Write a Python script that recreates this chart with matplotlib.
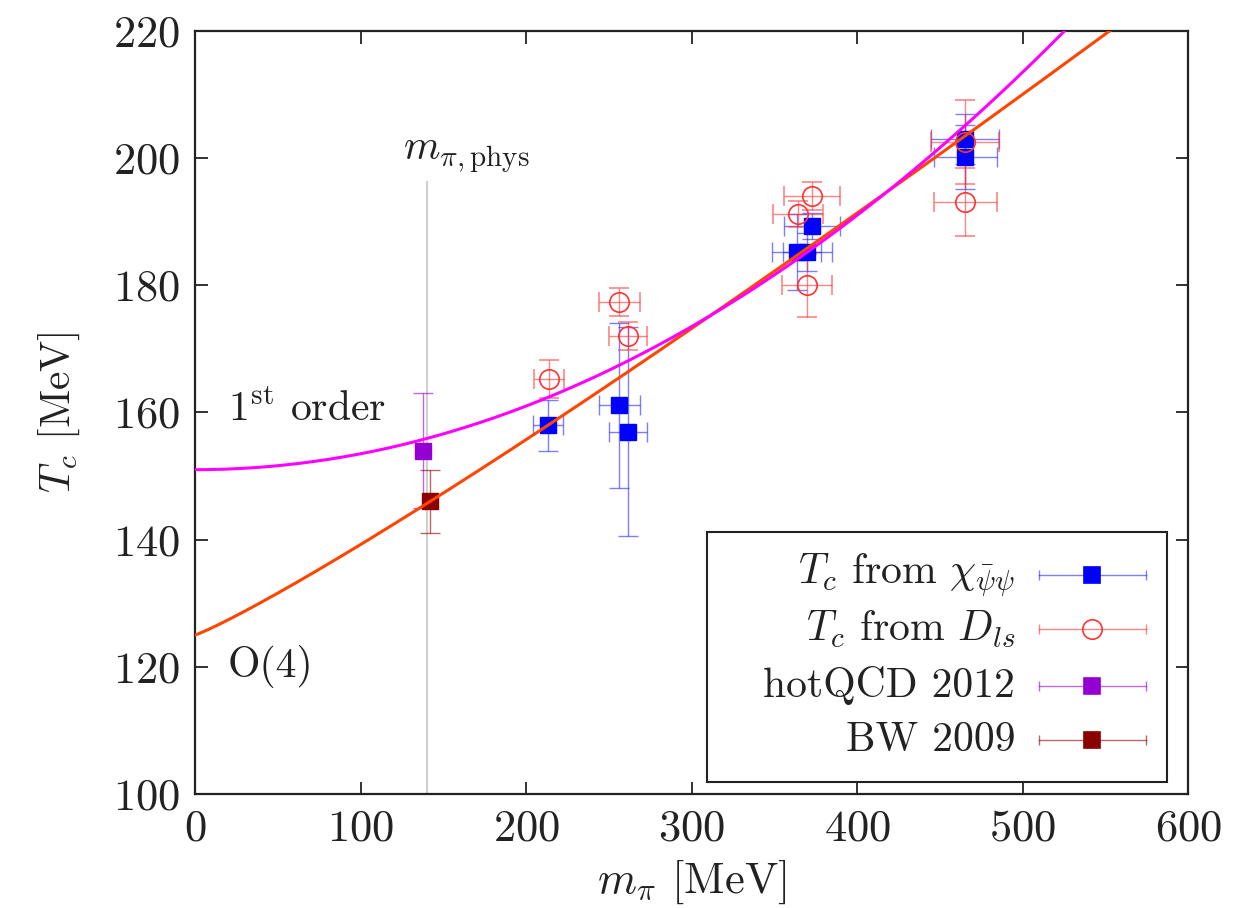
import numpy as np
import matplotlib
matplotlib.use("Agg")
import matplotlib.pyplot as plt
from matplotlib.patches import Rectangle

plt.rcParams["font.family"] = "serif"
plt.rcParams["font.serif"] = ["cmr10"]
plt.rcParams["mathtext.fontset"] = "cm"
plt.rcParams["axes.formatter.use_mathtext"] = True

# T_c from chiral susceptibility
m_chi = [213.3, 256.2, 261.6, 363.7, 369.8, 372.8, 465.3, 465.3]
dm_chi = [9.0, 12.4, 11.5, 14.8, 14.8, 17.0, 20.5, 19.0]
t_chi = [158.0, 161.1, 157.0, 185.2, 185.2, 189.3, 203.0, 200.2]
dt_chi = [4.0, 13.0, 16.5, 6.0, 3.0, 2.0, 4.0, 5.0]

# T_c from D_ls
m_dls = [213.9, 256.2, 261.6, 364.4, 372.8, 369.8, 465.3, 465.3]
dm_dls = [9.0, 12.4, 11.5, 15.0, 17.0, 15.0, 20.5, 19.0]
t_dls = [165.2, 177.3, 172.1, 191.2, 194.0, 180.0, 202.5, 193.1]
dt_dls = [3.0, 2.2, 2.2, 2.0, 2.2, 5.0, 6.6, 5.4]

# other groups
m_hot, t_hot, dt_hot = [137.8], [154.0], [9.0]
m_bw, t_bw, dt_bw = [142.0], [146.0], [5.0]

m_phys = 140.2
t_phys_top = 196.2

# fit parameters: O(4) scaling T0 + c*m^p, first order T0 + b*m^2
o4_T0, o4_c, o4_p = 125.0, 0.0853, 1.111
fo_T0, fo_b = 151.0, 2.50e-4

fig = plt.figure(figsize=(12.58, 9.08), dpi=100)
ax = fig.add_axes([0.155, 0.1256, 0.7894, 0.8403])

txt = "#222222"

ax.plot([m_phys, m_phys], [100, t_phys_top], color="#d0d0d0", lw=1.5, zorder=1)

eb = dict(ls="none", capsize=7, elinewidth=1.0, capthick=1.0)
ax.errorbar(m_chi, t_chi, xerr=dm_chi, yerr=dt_chi, marker="s", ms=12,
            color="#0000ff", ecolor=(0.15, 0.15, 1.0, 0.6), zorder=3, **eb)
ax.errorbar(m_dls, t_dls, xerr=dm_dls, yerr=dt_dls, marker="o", ms=14,
            mfc="none", mec="#ff3333", mew=1.2, color="#ff3333",
            ecolor=(1.0, 0.2, 0.2, 0.6), zorder=3, **eb)
ax.errorbar(m_hot, t_hot, yerr=dt_hot, marker="s", ms=12, color="#9400d3",
            ecolor=(0.58, 0.0, 0.83, 0.6), zorder=3, **eb)
ax.errorbar(m_bw, t_bw, yerr=dt_bw, marker="s", ms=12, color="#8b0000",
            ecolor=(0.55, 0.0, 0.0, 0.6), zorder=3, **eb)

mm = np.linspace(0, 600, 400)
ax.plot(mm, o4_T0 + o4_c * mm ** o4_p, color="#ff4500", lw=2.2, zorder=4)
ax.plot(mm, fo_T0 + fo_b * mm ** 2, color="#ff00ff", lw=2.2, zorder=4)

ax.set_xlim(0, 600)
ax.set_ylim(100, 220)
ax.set_xticks(range(0, 601, 100))
ax.set_yticks(range(100, 221, 20))
ax.tick_params(direction="in", top=True, right=True, length=9, width=1.3,
               labelsize=32, colors=txt, pad=11)
for s in ax.spines.values():
    s.set_linewidth(1.6)
    s.set_color("#222222")

ax.set_xlabel(r"$m_\pi$ [MeV]", fontsize=32, color=txt, labelpad=6)
ax.set_ylabel(r"$T_c$ [MeV]", fontsize=30, color=txt, labelpad=22)

ax.text(163.7, 200.5, r"$m_{\pi,\mathrm{phys}}$", fontsize=30, color=txt,
        ha="center", va="center")
ax.text(20, 160.5, r"1$^{\mathrm{st}}$ order", fontsize=30, color=txt,
        ha="left", va="center")
ax.text(20, 120.0, "O(4)", fontsize=30, color=txt, ha="left", va="center")

# key box
ax.add_patch(Rectangle((0.5156, 0.0157), 0.4633, 0.3277, transform=ax.transAxes,
                       fill=False, lw=1.5, ec="#222222", zorder=5))
rows = [
    (r"$T_c$ from $\chi_{\bar\psi\psi}$", "s", "#0000ff", "#0000ff", (0.15, 0.15, 1.0, 0.6)),
    (r"$T_c$ from $D_{ls}$", "o", "none", "#ff3333", (1.0, 0.2, 0.2, 0.6)),
    ("hotQCD 2012", "s", "#9400d3", "#9400d3", (0.58, 0.0, 0.83, 0.6)),
    ("BW 2009", "s", "#8b0000", "#8b0000", (0.55, 0.0, 0.0, 0.6)),
]
row_y = [0.287, 0.216, 0.1415, 0.0708]
for (lab, mk, fc, ec, lc), yy in zip(rows, row_y):
    ax.text(0.826, yy, lab, transform=ax.transAxes, fontsize=30, color=txt,
            ha="right", va="center", zorder=6)
    ax.plot([0.850, 0.9577], [yy, yy], transform=ax.transAxes, color=lc,
            lw=1.0, zorder=6)
    ax.plot([0.850, 0.9577], [yy, yy], transform=ax.transAxes, ls="none",
            marker="|", ms=7, mew=1.0, color=lc, zorder=6)
    ax.plot([0.903], [yy], transform=ax.transAxes, marker=mk,
            ms=12 if mk == "s" else 14, mfc=fc, mec=ec, mew=1.2, zorder=6)

fig.savefig("out.png", dpi=100)
